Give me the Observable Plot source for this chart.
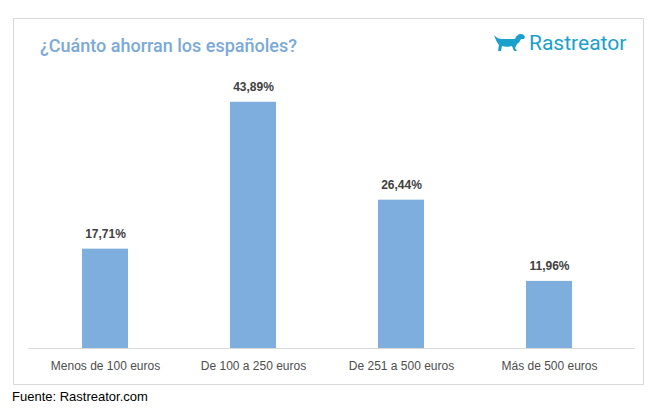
<!DOCTYPE html>
<html>
<head>
<meta charset="utf-8">
<script src="https://cdn.jsdelivr.net/npm/d3@7"></script>
<script src="https://cdn.jsdelivr.net/npm/@observablehq/plot@0.6"></script>
<style>
  html, body { margin: 0; padding: 0; background: #fff; }
  body { width: 664px; height: 412px; position: relative; overflow: hidden; font-family: "Liberation Sans", Arial, sans-serif; }
  #box { position: absolute; left: 13px; top: 18px; width: 629px; height: 365px; border: 1px solid #d9d9d9; }
  #title { position: absolute; left: 40px; top: 35px; font-family: Roboto, "Liberation Sans", sans-serif; font-size: 18px; font-weight: 500; color: #7aa9d8; white-space: nowrap; }
  #logo { position: absolute; left: 493px; top: 31px; display: flex; align-items: center; }
  #logo span { font-family: Roboto, "Liberation Sans", sans-serif; font-size: 21px; color: #1aa0cc; margin-left: 3px; }
  #chart { position: absolute; left: 0; top: 50px; }
  #footer { position: absolute; left: 12px; top: 389px; font-family: "Liberation Sans", Arial, sans-serif; font-size: 13px; color: #000; }
</style>
</head>
<body>
<div id="box"></div>
<div id="title">¿Cuánto ahorran los españoles?</div>
<div id="logo">
  <svg width="33" height="22" viewBox="0 0 33 22">
    <path d="M1 3 C4 6 6 7 9 7 L22 7 C23 4 25 2 28 2 C30 2 31 3 32 5 L31 7 L28 7 C27 9 26 11 24 12 L22 16 L24 19 L21 19 L19 14 C15 15 12 15 9 14 L8 19 L5 19 L6 13 C4 11 3 8 1 3 Z" fill="#1aa0cc"/>
  </svg>
  <span>Rastreator</span>
</div>
<div id="chart"></div>
<div id="footer">Fuente: Rastreator.com</div>
<script>
const categories = ["Menos de 100 euros", "De 100 a 250 euros", "De 251 a 500 euros", "Más de 500 euros"];
const values = [17.71, 43.89, 26.44, 11.96];
const labels = ["17,71%", "43,89%", "26,44%", "11,96%"];

const data = categories.map((c, i) => ({category: c, value: values[i], label: labels[i]}));

const chart = Plot.plot({
  width: 664,
  height: 332,
  marginLeft: 28,
  marginRight: 29,
  marginTop: 17.5,
  marginBottom: 34,
  style: {fontFamily: "'Liberation Sans', Arial, sans-serif", fontSize: "12px", background: "transparent", overflow: "visible"},
  x: {domain: categories, paddingInner: 0.69, paddingOuter: 0.389, align: 0.459, label: null},
  y: {domain: [0, 50], axis: null},
  marks: [
    Plot.barY(data, {x: "category", y: "value", fill: "#7daedd"}),
    Plot.ruleY([0], {stroke: "#d9d9d9", strokeWidth: 1}),
    Plot.text(data, {x: "category", y: "value", text: "label", dy: -15, fill: "#404040", fontWeight: "bold", fontSize: 12}),
    Plot.axisX({tickSize: 0, tickPadding: 13, fill: "#4d4d4d", stroke: "#4d4d4d", strokeWidth: 0.25, fontSize: 12, label: null})
  ]
});
document.getElementById("chart").appendChild(chart);
</script>
</body>
</html>
